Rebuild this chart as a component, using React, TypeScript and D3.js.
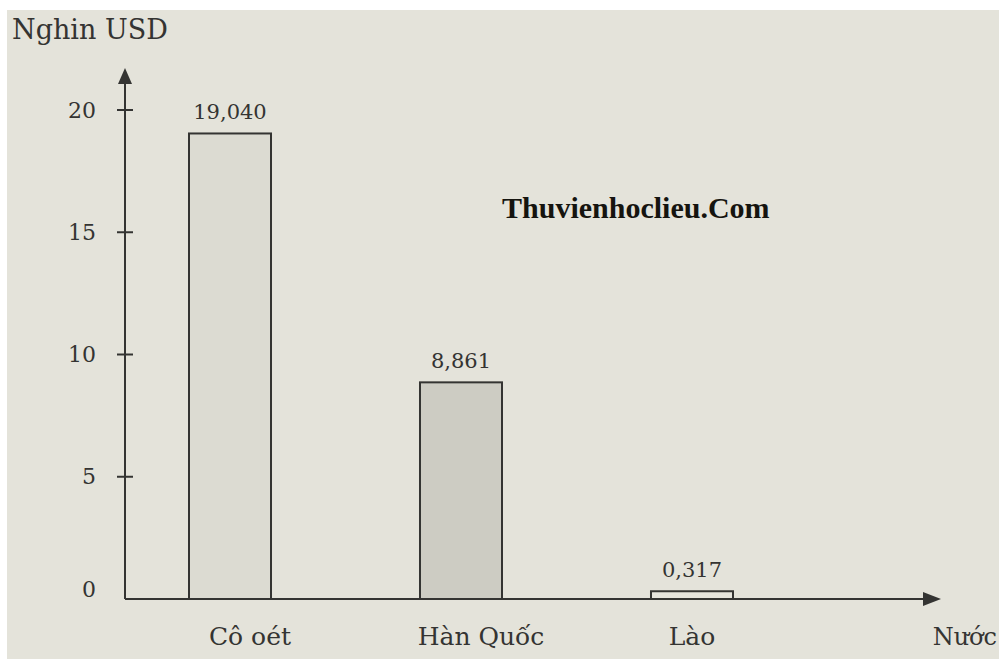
import React from 'react'
import { scaleBand, scaleLinear } from 'd3'

// Du lieu bieu do
const quocGia = ['Cô oét', 'Hàn Quốc', 'Lào']
const gdpNguoi = [19.04, 8.861, 0.317]
const nhanGiaTri = ['19,040', '8,861', '0,317']
const mocTruc = [0, 5, 10, 15, 20]
const mauCot = ['#dcdbd2', '#cdccc3', '#e6e5dd']

const W = 999
const H = 659
const font = '"DejaVu Serif", serif'
const ink = '#343432'

const App = () => {
    const x = scaleBand<string>()
        .domain(quocGia)
        .range([189, 733])
        .paddingInner(0.645)
        .paddingOuter(0)

    const y = scaleLinear()
        .domain([0, 20])
        .range([599, 110])

    const x0 = 125
    const y0 = y(0)

    return (
        <svg width={W} height={H} style={{ position: 'absolute', left: 0, top: 0 }}>
            <rect width={W} height={H} fill="#ffffff" />
            <rect x={7} y={10} width={W - 7} height={H - 10} fill="#e4e3da" />

            <text x={12} y={39} fontFamily={font} fontSize={27} fill={ink}>Nghin USD</text>

            {/* cot */}
            {quocGia.map((q, i) => (
                <g key={q}>
                    <rect x={x(q)} y={y(gdpNguoi[i])} width={x.bandwidth()}
                        height={y0 - y(gdpNguoi[i])}
                        fill={mauCot[i]} stroke={ink} strokeWidth={2} />
                    <text x={(x(q) ?? 0) + x.bandwidth() / 2} y={y(gdpNguoi[i]) - 14}
                        textAnchor="middle" fontFamily={font} fontSize={21} fill={ink}>{nhanGiaTri[i]}</text>
                    <text x={(x(q) ?? 0) + x.bandwidth() / 2 + (i < 2 ? 20 : 0)} y={645}
                        textAnchor="middle" fontFamily={font} fontSize={25} fill={ink}>{q}</text>
                </g>
            ))}

            {/* truc tung */}
            <line x1={x0} y1={y0} x2={x0} y2={76} stroke={ink} strokeWidth={2} />
            <path d={`M${x0},68 L${x0 - 7},84 L${x0 + 7},84 Z`} fill={ink} />
            {mocTruc.map(t => (
                <g key={t}>
                    {t > 0 && <line x1={x0 - 8} x2={x0 + 8} y1={y(t)} y2={y(t)} stroke={ink} strokeWidth={2} />}
                    <text x={96} y={y(t) - (t === 0 ? 10 : 0)} dy="0.35em" textAnchor="end"
                        fontFamily={font} fontSize={22} fill={ink}>{t}</text>
                </g>
            ))}

            {/* truc hoanh */}
            <line x1={x0} y1={y0} x2={928} y2={y0} stroke={ink} strokeWidth={2} />
            <path d={`M941,${y0} L923,${y0 - 7} L923,${y0 + 7} Z`} fill={ink} />
            <text x={997} y={645} textAnchor="end" fontFamily={font} fontSize={24} fill={ink}>Nước</text>

            <text x={502} y={218} fontFamily='"Liberation Serif", serif' fontSize={30} fontWeight="bold" fill="#15140f">Thuvienhoclieu.Com</text>
        </svg>
    )
}

export default App
